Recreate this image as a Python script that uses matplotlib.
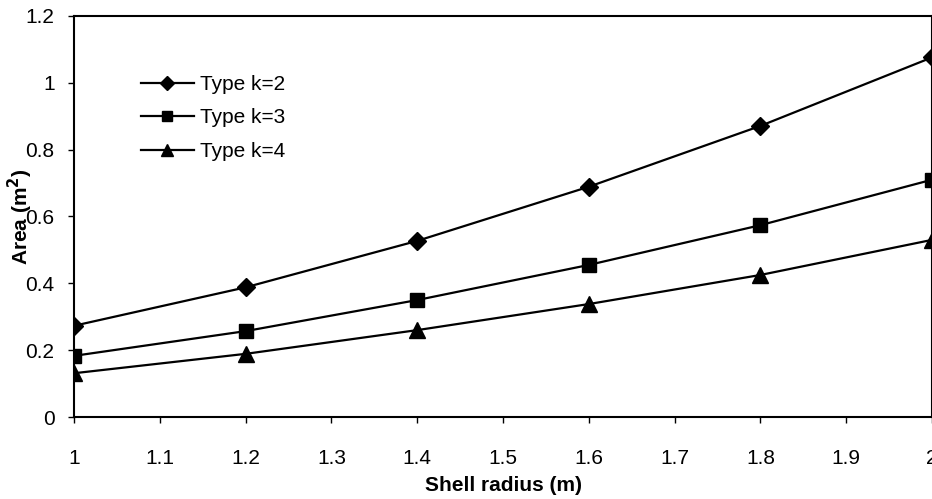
import matplotlib
matplotlib.use('Agg')
import matplotlib.pyplot as plt
from matplotlib.ticker import FuncFormatter

plt.rcParams['font.family'] = ['Liberation Sans', 'DejaVu Sans']

# shell radius (m)
radius = [1.0, 1.2, 1.4, 1.6, 1.8, 2.0]
# area (m^2) for each type
area_k2 = [0.273, 0.388, 0.527, 0.689, 0.871, 1.076]
area_k3 = [0.183, 0.257, 0.350, 0.455, 0.574, 0.710]
area_k4 = [0.131, 0.189, 0.260, 0.338, 0.425, 0.530]

x_ticks = [1, 1.1, 1.2, 1.3, 1.4, 1.5, 1.6, 1.7, 1.8, 1.9, 2]
y_ticks = [0, 0.2, 0.4, 0.6, 0.8, 1, 1.2]

fig = plt.figure(figsize=(9.32, 4.99), dpi=100)
ax = fig.add_axes([0.0794, 0.1643, 0.9206, 0.8037])

ax.plot(radius, area_k2, '-', color='black', lw=1.6, marker='D', ms=9.5, label='Type k=2')
ax.plot(radius, area_k3, '-', color='black', lw=1.6, marker='s', ms=10, label='Type k=3')
ax.plot(radius, area_k4, '-', color='black', lw=1.6, marker='^', ms=11, label='Type k=4')

ax.set_xlim(1, 2)
ax.set_ylim(0, 1.2)
ax.set_xticks(x_ticks)
ax.set_yticks(y_ticks)
fmt = FuncFormatter(lambda v, p: '%g' % v)
ax.xaxis.set_major_formatter(fmt)
ax.yaxis.set_major_formatter(fmt)
ax.tick_params(direction='out', length=4, width=1, labelsize=15)
ax.tick_params(axis='x', pad=19)
ax.tick_params(axis='y', pad=10)
for s in ax.spines.values():
    s.set_linewidth(1.5)

ax.set_xlabel('Shell radius (m)', fontsize=15, fontweight='bold', labelpad=6)
ax.set_ylabel('Area (m$^\\mathbf{2}$)', fontsize=15, fontweight='bold')
ax.yaxis.set_label_coords(-0.0455, 0.5)

ax.legend(loc='upper left', bbox_to_anchor=(0.056, 0.9), frameon=False,
          fontsize=15, handlelength=2.55, handletextpad=0.3, labelspacing=0.7,
          markerscale=0.75)

fig.savefig('out.png', dpi=100)
